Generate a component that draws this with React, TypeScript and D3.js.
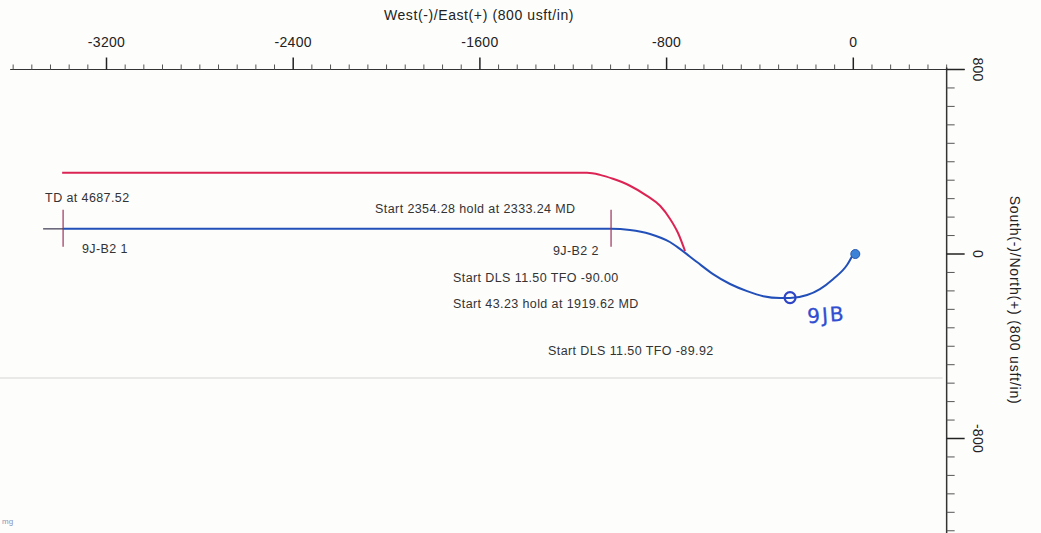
import React from 'react';
import * as d3 from 'd3';

// plan (blue) and reference (red) section, West(-)/East(+) vs South(-)/North(+), usft
const planX = [-3386, -1039, -957, -871, -786, -743, -670, -601, -528, -455, -386, -314, -271, -198, -143, -87, -27, 0];
const planY = [109, 109, 104, 87, 52, 22, -35, -87, -130, -161, -183, -191, -191, -178, -152, -109, -48, 0];

const offsetX = [-3390, -1141, -1085, -1030, -957, -884, -828, -785, -751, -721];
const offsetY = [352, 352, 343, 326, 296, 252, 209, 152, 91, 13];

const majorTicksX = [-3200, -2400, -1600, -800, 0];
const majorTicksY = [800, 0, -800];
const minorStep = 80;

// markers on the plan: TD and the 9J-B2 2 target
const markerX = [-3386, -1038];
const markerY = [109, 109];

const annoText = [
  'TD at 4687.52',
  '9J-B2 1',
  'Start 2354.28 hold at 2333.24 MD',
  '9J-B2 2',
  'Start DLS 11.50 TFO -90.00',
  'Start 43.23 hold at 1919.62 MD',
  'Start DLS 11.50 TFO -89.92',
];
const annoX = [-3463, -3305, -2049, -1287, -1715, -1715, -1308];
const annoY = [226, 4, 178, -4, -122, -235, -439];

const W = 1041;
const H = 533;

const App: React.FC = () => {
  const x = d3.scaleLinear().domain([-3200, 0]).range([106.5, 853.3]);
  const y = d3.scaleLinear().domain([800, -800]).range([69.5, 438.5]);

  const xMin = -3600;
  const xMax = 400; // y axis sits here
  const yTop = 800;
  const yBottom = -1200;

  const minorX = d3.range(xMin, xMax + 1, minorStep).filter(v => !majorTicksX.includes(v));
  const minorY = d3.range(yBottom, yTop + 1, minorStep).filter(v => !majorTicksY.includes(v));

  const line = d3.line<[number, number]>()
    .x(d => x(d[0]))
    .y(d => y(d[1]))
    .curve(d3.curveMonotoneX);

  const plan = planX.map((v, i) => [v, planY[i]] as [number, number]);
  const offset = offsetX.map((v, i) => [v, offsetY[i]] as [number, number]);

  const axisY = y(yTop);
  const axisX = x(xMax);
  const font = 'Liberation Sans, Arial, sans-serif';

  return (
    <svg width={W} height={H} style={{ position: 'absolute', left: 0, top: 0, background: '#fdfdfc' }}>
      {/* faint scan fold */}
      <line x1={0} x2={axisX - 4} y1={378} y2={378} stroke="#e9e9e7" strokeWidth={2} />

      {/* top axis */}
      <text x={479} y={20} textAnchor="middle" fontFamily={font} fontSize={14} letterSpacing={0.6} fill="#222">
        West(-)/East(+) (800 usft/in)
      </text>
      <line x1={x(xMin) - 3} x2={axisX + 18} y1={axisY} y2={axisY} stroke="#333" strokeWidth={1.2} />
      {minorX.map(v => (
        <line key={`mx${v}`} x1={x(v)} x2={x(v)} y1={axisY - 5} y2={axisY} stroke="#555" strokeWidth={1} />
      ))}
      {majorTicksX.map(v => (
        <g key={`Mx${v}`}>
          <line x1={x(v)} x2={x(v)} y1={axisY - 12} y2={axisY} stroke="#222" strokeWidth={1.5} />
          <text x={x(v)} y={47} textAnchor="middle" fontFamily={font} fontSize={14} letterSpacing={0.3} fill="#222">
            {v === 0 ? '0' : `-${Math.abs(v)}`}
          </text>
        </g>
      ))}

      {/* right axis */}
      <line x1={axisX} x2={axisX} y1={axisY - 2} y2={H} stroke="#333" strokeWidth={1.5} />
      {minorY.map(v => (
        <line key={`my${v}`} x1={axisX} x2={axisX + 8} y1={y(v)} y2={y(v)} stroke="#555" strokeWidth={1} />
      ))}
      {majorTicksY.map(v => (
        <g key={`My${v}`}>
          <line x1={axisX} x2={axisX + 18} y1={y(v)} y2={y(v)} stroke="#222" strokeWidth={1.5} />
          <text
            transform={`translate(${axisX + 31},${y(v)}) rotate(90)`}
            textAnchor="middle"
            dominantBaseline="central"
            fontFamily={font}
            fontSize={14}
            letterSpacing={0.3}
            fill="#222"
          >
            {v === 0 ? '0' : v < 0 ? `-${Math.abs(v)}` : `${v}`}
          </text>
        </g>
      ))}
      <text
        transform={`translate(1015,${y(-200)}) rotate(90)`}
        textAnchor="middle"
        dominantBaseline="central"
        fontFamily={font}
        fontSize={14}
        letterSpacing={0.8}
        fill="#222"
      >
        South(-)/North(+) (800 usft/in)
      </text>

      {/* wells */}
      <path d={line(plan) ?? ''} fill="none" stroke="#2250b8" strokeWidth={2} />
      <path d={line(offset) ?? ''} fill="none" stroke="#dc2454" strokeWidth={2} />

      {/* markers */}
      {markerX.map((v, i) => (
        <line key={`mk${i}`} x1={x(v)} x2={x(v)} y1={y(markerY[i]) - 19} y2={y(markerY[i]) + 18}
          stroke="#9a3358" strokeWidth={1.2} />
      ))}
      <line x1={x(markerX[0]) - 20} x2={x(markerX[0])} y1={y(markerY[0])} y2={y(markerY[0])}
        stroke="#3a3550" strokeWidth={1.2} />

      {/* surface location + hand marks */}
      <circle cx={x(planX[planX.length - 1]) + 2} cy={y(planY[planY.length - 1])} r={4.5}
        fill="#3c82d6" stroke="#2a5bb0" strokeWidth={1} />
      <circle cx={x(-271)} cy={y(-189)} r={5.5} fill="none" stroke="#2f45c8" strokeWidth={2.2} />
      <text x={x(-195)} y={y(-300)} fontFamily="DejaVu Sans, sans-serif" fontSize={20} fill="#2f4ed0"
        letterSpacing={2} stroke="#2f4ed0" strokeWidth={0.3} transform={`rotate(-4 ${x(-195)} ${y(-300)})`}>
        9JB
      </text>

      {/* annotations */}
      {annoText.map((t, i) => (
        <text key={`a${i}`} x={x(annoX[i])} y={y(annoY[i])} fontFamily={font} fontSize={12.5}
          letterSpacing={0.4} fill="#333">
          {t}
        </text>
      ))}

      {/* scan mark bottom left */}
      <text x={2} y={524} fontFamily={font} fontSize={8} fill="#8894bb">mg</text>
    </svg>
  );
};

export default App;
